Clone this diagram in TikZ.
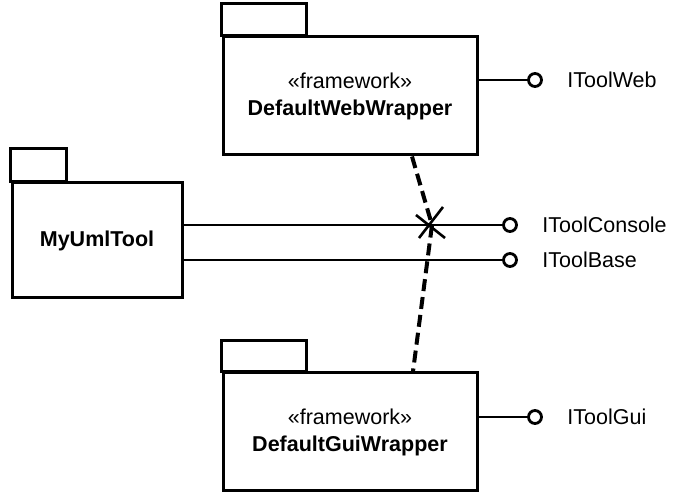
\documentclass[tikz,border=0pt]{standalone}
\usepackage{fontspec}
\setmainfont{Liberation Sans}
\usetikzlibrary{positioning}
\begin{document}
\begin{tikzpicture}[x=1pt,y=1pt,line width=3pt,font=\fontsize{21.5}{27}\selectfont,
 pkg/.style={draw,rectangle,minimum width=254pt,minimum height=118pt,align=center,inner sep=0pt},
 lolli/.style={draw,circle,line width=2.8pt,fill=white,minimum size=13pt,inner sep=0pt},
 ifname/.style={inner sep=0pt,anchor=west},
 wire/.style={line width=2.2pt}]
 \useasboundingbox (0,0) rectangle (678,492);
 \node[pkg] (web) at (350,396) {«framework»\\\textbf{DefaultWebWrapper}};
 \node[pkg,minimum width=170pt,minimum height=115pt] (tool) at (97,251.5) {\textbf{MyUmlTool}};
 \node[pkg] (gui) at (350,60) {«framework»\\\textbf{DefaultGuiWrapper}};
 \draw (web.north west) rectangle ++(85,32) (tool.north west) rectangle ++(56,33) (gui.north west) rectangle ++(85,31);
 \foreach \n/\b/\x/\y/\t in {iweb/web/535/412/IToolWeb,icon/tool/510/267/IToolConsole,ibase/tool/510/232/IToolBase,igui/gui/535/75/IToolGui}{\draw[wire] (\b.east |- \x,\y) -- (\x,\y); \node[lolli] (\n) at (\x,\y) {}; \node[ifname,right=23pt of \n] (\n t) {\t};}
 \coordinate (cross) at (432,267);
 \draw[line width=4pt,dash pattern=on 12pt off 6pt] ([xshift=62pt]web.south) -- (cross) -- ([xshift=63pt]gui.north);
 \draw[line width=2.6pt] ([shift={(-16,10)}]cross) -- ([shift={(13,-13)}]cross) ([shift={(11,18)}]cross) -- ([shift={(-13,-13)}]cross);
\end{tikzpicture}
\end{document}
